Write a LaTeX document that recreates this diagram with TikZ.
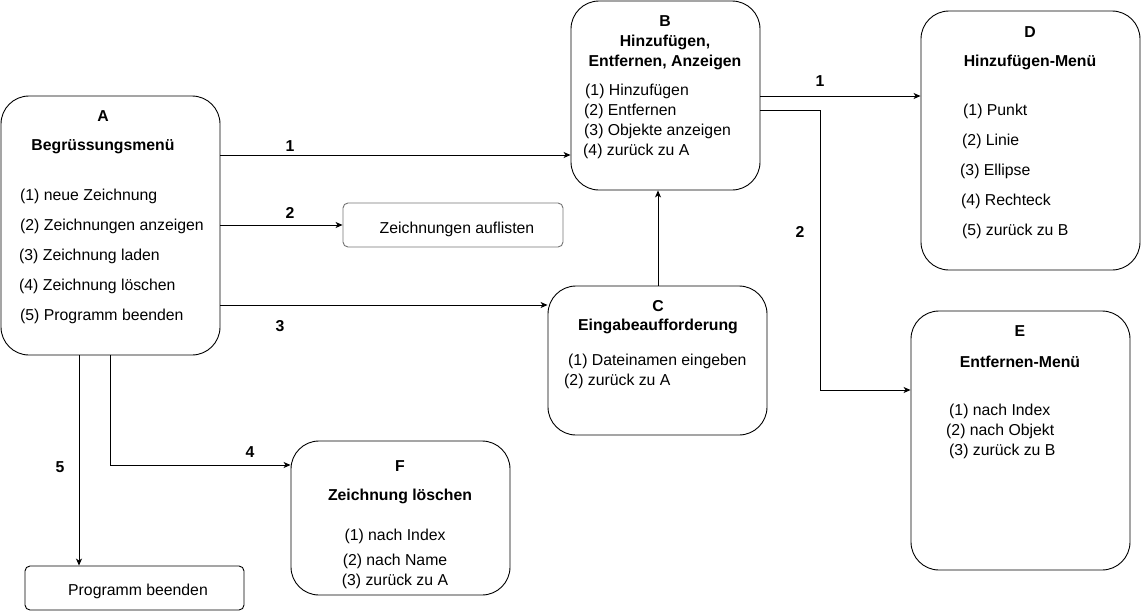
\documentclass[tikz,border=0pt]{standalone}
\usepackage{fontspec}
\setmainfont{Liberation Sans}
\usetikzlibrary{arrows.meta}
\begin{document}
\begin{tikzpicture}[x=1pt,y=-1pt,
  box/.style={draw=black,line width=0.9pt,rounded corners=28pt,inner sep=0pt},
  sbox/.style={draw=black,line width=0.9pt,rounded corners=5pt,inner sep=0pt},
  txt/.style={font=\fontsize{15.8}{18}\selectfont,inner sep=0pt,yshift=-1.5pt},
  hd/.style={font=\fontsize{15.8}{18}\selectfont\bfseries,inner sep=0pt,yshift=-1.5pt},
  it/.style={txt,anchor=west},
  con/.style={line width=0.9pt,-{Stealth[length=7pt,width=6pt,inset=2pt]}},
  lab/.style={font=\fontsize{15.8}{18}\selectfont\bfseries,inner sep=0pt,yshift=-1.5pt}]
\useasboundingbox (0,0) rectangle (1141,611);
% boxes
\node[box,minimum width=219pt,minimum height=259pt] (A) at (110.5,225.5) {};
\node[box,minimum width=189pt,minimum height=189pt] (B) at (665.5,95.5) {};
\node[box,minimum width=219pt,minimum height=149pt] (C) at (657.5,360.5) {};
\node[box,minimum width=219pt,minimum height=259pt] (D) at (1030.5,140.5) {};
\node[box,minimum width=219pt,minimum height=259pt] (E) at (1020.5,440.5) {};
\node[box,minimum width=219pt,minimum height=154pt] (F) at (400.5,518) {};
\node[sbox,draw=black!55,minimum width=220pt,minimum height=44pt] (L) at (453,225) {};
\node[sbox,minimum width=219pt,minimum height=44pt] (P) at (134.5,588) {};
% texts A
\node[hd] (a0) at (103,115) {A};
\node[hd] (a1) at (103,145) {Begrüssungsmenü};
\node[it] (a2) at (20,195) {(1) neue Zeichnung};
\node[it] (a3) at (20,225) {(2) Zeichnungen anzeigen};
\node[it] (a4) at (19,255) {(3) Zeichnung laden};
\node[it] (a5) at (19,285) {(4) Zeichnung löschen};
\node[it] (a6) at (20,315) {(5) Programm beenden};
% texts B
\node[hd] (b0) at (665,20) {B};
\node[hd] (b1) at (665,41) {Hinzufügen,};
\node[hd] (b2) at (665,61) {Entfernen, Anzeigen};
\node[it] (b3) at (585,90) {(1) Hinzufügen};
\node[it] (b4) at (584,110) {(2) Entfernen};
\node[it] (b5) at (584,130) {(3) Objekte anzeigen};
\node[it] (b6) at (583,150) {(4) zurück zu A};
% texts C
\node[hd] (c0) at (658,305) {C};
\node[hd] (c1) at (658,325) {Eingabeaufforderung};
\node[it] (c2) at (568,360) {(1) Dateinamen eingeben};
\node[it] (c3) at (564,380) {(2) zurück zu A};
% texts D
\node[hd] (d0) at (1030,31) {D};
\node[hd] (d1) at (1030,61) {Hinzufügen-Menü};
\node[it] (d2) at (963,110) {(1) Punkt};
\node[it] (d3) at (962,140) {(2) Linie};
\node[it] (d4) at (960,170) {(3) Ellipse};
\node[it] (d5) at (961,200) {(4) Rechteck};
\node[it] (d6) at (962,230) {(5) zurück zu B};
% texts E
\node[hd] (e0) at (1020,330) {E};
\node[hd] (e1) at (1020,360) {Entfernen-Menü};
\node[it] (e2) at (949,410) {(1) nach Index};
\node[it] (e3) at (946,430) {(2) nach Objekt};
\node[it] (e4) at (949,450) {(3) zurück zu B};
% texts F
\node[hd] (f0) at (400,465) {F};
\node[hd] (f1) at (400,495) {Zeichnung löschen};
\node[txt] (f2) at (395,535) {(1) nach Index};
\node[txt] (f3) at (395,560) {(2) nach Name};
\node[txt] (f4) at (395,580) {(3) zurück zu A};
% small boxes text
\node[txt] (l0) at (457,228) {Zeichnungen auflisten};
\node[txt] (p0) at (138,590) {Programm beenden};
% connectors
\draw[con] (A.east |- 0,155) -- (B.west |- 0,155);
\draw[con] (A.east |- 0,225) -- (L.west |- 0,225);
\draw[con] (A.east |- 0,305) -- (C.west |- 0,305);
\draw[con] (A.south -| 110,0) -- (110,465) -- (F.west |- 0,465);
\draw[con] (A.south -| 79,0) -- (P.north -| 79,0);
\draw[con] (C.north -| 658,0) -- (B.south -| 658,0);
\draw[con] (B.east |- 0,96) -- (D.west |- 0,96);
\draw[con] (B.east |- 0,110) -- (820,110) -- (820,390) -- (E.west |- 0,390);
% labels
\node[lab] (n1) at (290,145) {1};
\node[lab] (n2) at (290,211) {2};
\node[lab] (n3) at (280,325) {3};
\node[lab] (n4) at (250,451) {4};
\node[lab] (n5) at (60,466) {5};
\node[lab] (n6) at (820,80) {1};
\node[lab] (n7) at (800,230) {2};
\end{tikzpicture}
\end{document}
